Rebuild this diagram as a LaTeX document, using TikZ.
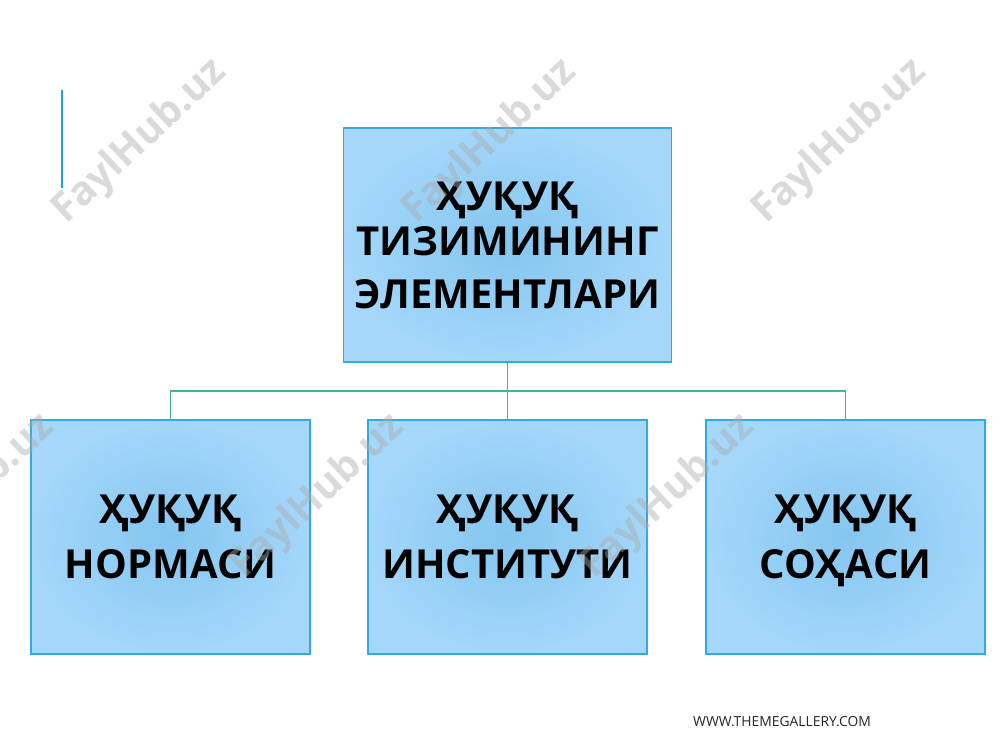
\documentclass[tikz,border=0pt]{standalone}
\usepackage{fontspec}
\setmainfont{Open Sans}
\usetikzlibrary{positioning}

\definecolor{boxin}{HTML}{84C5EF}
\definecolor{boxout}{HTML}{A4D7FA}
\definecolor{boxline}{HTML}{33AADD}
\definecolor{linkline}{HTML}{3DB88F}
\definecolor{accent}{HTML}{1BA1E2}
\definecolor{sitegray}{HTML}{262626}

\tikzset{
    element/.style={draw=boxline, line width=0.9pt, inner color=boxin, outer color=boxout,
        align=center, font=\bfseries\fontsize{30}{41}\selectfont, inner sep=0pt},
    link/.style={draw=linkline, line width=1pt},
    watermark/.style={rotate=43, text=gray!65, text opacity=0.45, font=\bfseries\fontsize{30}{30}\selectfont}
}

\begin{document}
\begin{tikzpicture}[x=0.75pt, y=0.75pt]
        \useasboundingbox (0, 0) rectangle (1000, 750);

        \draw [accent, line width=1.5pt] (62, 660) -- (62, 562);

        \node [element, minimum width=246pt, minimum height=175.5pt] (top) at (507.5, 505)
            {ҲУҚУҚ\\[-7.25pt]ТИЗИМИНИНГ\\[-1.25pt]ЭЛЕМЕНТЛАРИ};
        \node [element, minimum width=209.25pt, minimum height=175.5pt] (norm) at (170.5, 213) {ҲУҚУҚ~\\НОРМАСИ};
        \node [element, minimum width=209.25pt, minimum height=175.5pt] (inst) at (507.5, 213) {ҲУҚУҚ~\\ИНСТИТУТИ};
        \node [element, minimum width=209.25pt, minimum height=175.5pt] (soha) at (845.5, 213) {ҲУҚУҚ~\\СО\smash{Ҳ}АСИ};

        \coordinate (bus) at (507.5, 359);
        \draw [link] (top.south) -- (inst.north);
        \draw [link] (norm.north) |- (bus) -| (soha.north);

        \node [font=\fontsize{10.4}{12}\selectfont, text=sitegray] (site) at (782, 28) {WWW.THEMEGALLERY.COM};

        % watermarks
        \node [watermark] (wm1) at (140, 608) {FaylHub.uz};
        \node [watermark] (wm2) at (490, 608) {FaylHub.uz};
        \node [watermark] (wm3) at (840, 608) {FaylHub.uz};
        \node [watermark] (wm4) at (-32, 253) {FaylHub.uz};
        \node [watermark] (wm5) at (318, 253) {FaylHub.uz};
        \node [watermark] (wm6) at (668, 253) {FaylHub.uz};
    \end{tikzpicture}
\end{document}
